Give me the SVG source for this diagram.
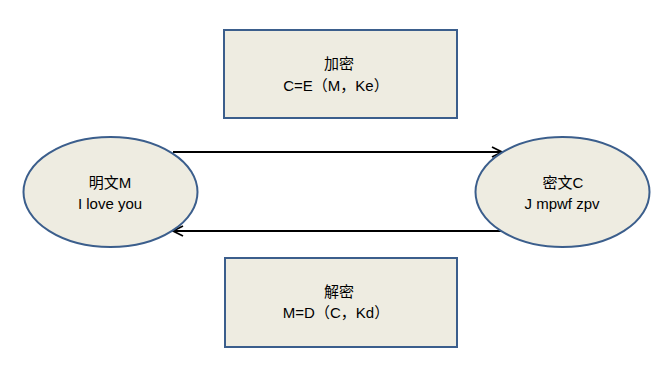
<svg xmlns="http://www.w3.org/2000/svg" width="661" height="385" viewBox="0 0 661 385">
<style>
.shape{fill:#EEECE1;stroke:#3B5E8C;stroke-width:2}
.t{font-family:"Liberation Sans","Noto Sans CJK SC",sans-serif;font-size:15px;fill:#000;text-anchor:middle}
.conn{stroke:#000;stroke-width:2;fill:none}
</style>
<defs>
<marker id="arr" viewBox="0 0 12 12" refX="11" refY="6" markerWidth="12" markerHeight="12" markerUnits="userSpaceOnUse" orient="auto">
<path d="M1,1 L11,6 L1,11" fill="none" stroke="#000" stroke-width="1.8"/>
</marker>
</defs>
<rect width="661" height="385" fill="#fff"/>
<g id="connectors">
<line class="conn" x1="173" y1="152" x2="502" y2="152" marker-end="url(#arr)"/>
<line class="conn" x1="501" y1="231" x2="173" y2="231" marker-end="url(#arr)"/>
</g>
<g id="encrypt">
<rect class="shape" x="224" y="30" width="233" height="88"/>
<text class="t" x="339" y="69">加密</text>
<text class="t" x="336" y="91">C=E（M，Ke）</text>
</g>
<g id="decrypt">
<rect class="shape" x="225" y="258" width="232" height="89"/>
<text class="t" x="339" y="297">解密</text>
<text class="t" x="336" y="318">M=D（C，Kd）</text>
</g>
<g id="plaintext">
<ellipse class="shape" cx="110.5" cy="192" rx="87" ry="55"/>
<text class="t" x="110" y="188">明文M</text>
<text class="t" x="110" y="209">I love you</text>
</g>
<g id="ciphertext">
<ellipse class="shape" cx="562.5" cy="192" rx="87" ry="55"/>
<text class="t" x="563" y="188">密文C</text>
<text class="t" x="562" y="209">J mpwf zpv</text>
</g>
</svg>
